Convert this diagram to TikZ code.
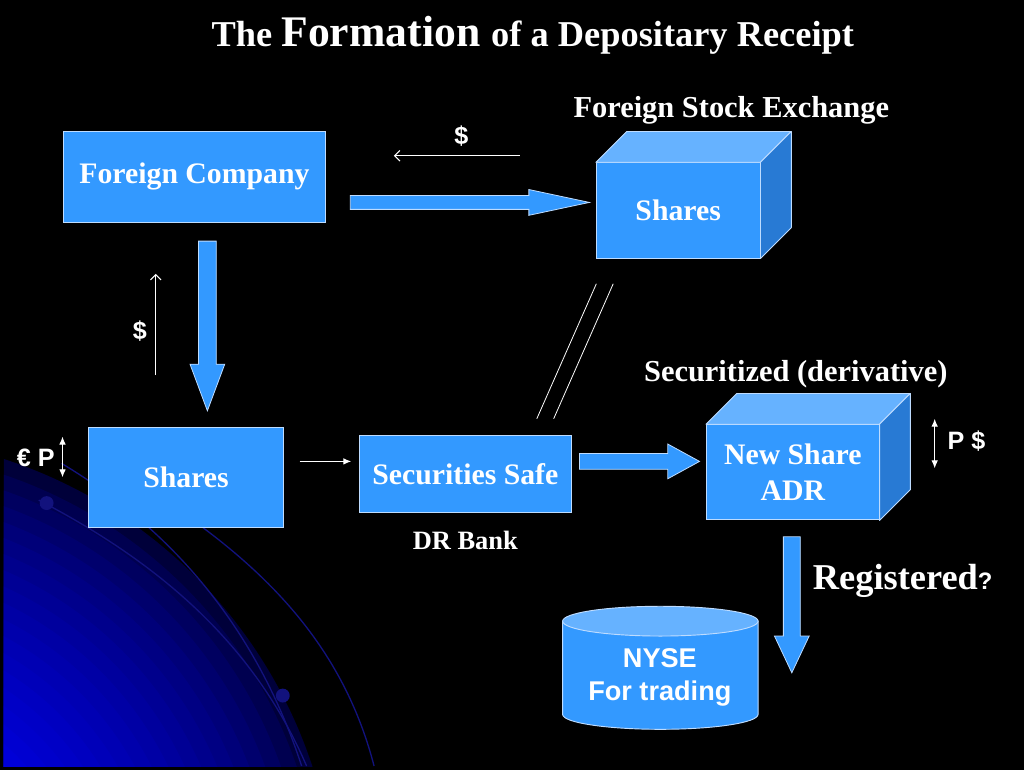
\documentclass[tikz,border=0pt]{standalone}
\usepackage{fontspec}
\setmainfont{Liberation Serif}
\newfontfamily\armfont{Liberation Sans}
\usetikzlibrary{arrows.meta}
\definecolor{boxBlue}{RGB}{51,153,255}
\definecolor{topBlue}{RGB}{102,178,255}
\definecolor{sideBlue}{RGB}{40,122,212}
\definecolor{edgeBlue}{RGB}{190,220,255}
\definecolor{glowBlue}{RGB}{0,0,225}
\definecolor{arcBlue}{RGB}{18,18,125}
\newcommand\pu{0.75pt}
%% fat arrow: start, angle, length, shaft half width, head half width, head length
\newcommand\fatArrow[6]{%
  \begin{scope}[shift={(#1)},rotate=#2]
    \filldraw[fatDecorate] (0,-#4) -- ({#3-#6},-#4) -- ({#3-#6},-#5) -- (#3,0)
      -- ({#3-#6},#5) -- ({#3-#6},#4) -- (0,#4) -- cycle;
  \end{scope}}

\begin{document}
\begin{tikzpicture}
[x=0.75pt,y=-0.75pt,
  boxDecorate/.style={shape=rectangle,fill=boxBlue,draw=edgeBlue,line width=0.7pt,text=white,
    font=\bfseries\fontsize{22.5}{27}\selectfont,align=center,inner sep=0pt},
  topDecorate/.style={fill=topBlue,draw=edgeBlue,line width=0.7pt,line join=round},
  sideDecorate/.style={fill=sideBlue,draw=edgeBlue,line width=0.7pt,line join=round},
  fatDecorate/.style={fill=boxBlue,draw=edgeBlue,line width=0.6pt,line join=miter},
  labelDecorate/.style={text=white,font=\bfseries\fontsize{23}{26}\selectfont,inner sep=0pt},
  signDecorate/.style={text=white,font=\armfont\bfseries\fontsize{19}{21}\selectfont,inner sep=0pt},
  openArrow/.style={white,line width=0.8pt,-{Straight Barb[length=4pt,width=8pt]}},
  solidArrow/.style={white,line width=0.8pt,-{Latex[length=6pt,width=5pt]}},
  bothArrow/.style={white,line width=0.8pt,{Latex[length=6pt,width=5pt]}-{Latex[length=6pt,width=5pt]}}]
%% background
\fill[black] (-4,-4) rectangle (1028,772);
\useasboundingbox (0,0) rectangle (1024,768);
\begin{scope}
  \clip (0,0) rectangle (1024,768);
  \foreach \i in {0,...,20}
  {
    \pgfmathsetmacro\glowmix{100*(\i/20)^0.45}
    \fill[glowBlue!\glowmix!black] (-150,920) circle ({500-\i*15});
  }
  \draw[arcBlue,line width=1pt] (35,500) .. controls (150,560) and (250,640) .. (305,768);
  \draw[arcBlue,line width=1pt] (58,463) .. controls (170,530) and (255,630) .. (300,768);
  \draw[arcBlue,line width=1pt] (190,520) .. controls (280,585) and (345,660) .. (373,768);
  \fill[arcBlue] (43,503) circle (7);
  \fill[arcBlue] (281,697) circle (7);
\end{scope}

%% title
\node[text=white,inner sep=0pt,font=\bfseries] (title) at (533,32)
  {\fontsize{27.5}{30}\selectfont The \fontsize{33}{36}\selectfont Formation
   \fontsize{27.5}{30}\selectfont of a Depositary Receipt};

%% boxes
\foreach \nodename/\x/\y/\w/\h/\txt in {
  fc/192/174/264/92/{Foreign Company}, shares/183.5/477.5/197/101/Shares,
  safe/465/473.5/214/77/{Securities Safe}, fse/679.5/208/165/96/Shares,
  adr/795/472/174/96/{New Share\\ADR}}
{
  \node (\nodename) at (\x,\y) [boxDecorate,minimum width=\w*\pu,minimum height=\h*\pu] {\txt};
}
%% cube faces
\foreach \c in {fse,adr}
{
  \filldraw[topDecorate] (\c.north west) -- ++(31,-31) -- ([shift={(31,-31)}]\c.north east)
    -- (\c.north east) -- cycle;
  \filldraw[sideDecorate] (\c.north east) -- ++(31,-31) -- ([shift={(31,-31)}]\c.south east)
    -- (\c.south east) -- cycle;
}

%% NYSE drum
\filldraw[fill=boxBlue,draw=edgeBlue,line width=0.7pt] (563,622) -- (563,716)
  arc[start angle=180,end angle=360,x radius=98.5,y radius=-15] -- (760,622) -- cycle;
\filldraw[fill=topBlue,draw=edgeBlue,line width=0.7pt] (661.5,622) ellipse (98.5 and 15);
\node[text=white,inner sep=0pt,align=center,font=\armfont\bfseries\fontsize{20.5}{25}\selectfont]
  (nyse) at (661,679) {NYSE\\For trading};

%% labels
\node[labelDecorate] (fseLabel) at (733,107) {Foreign Stock Exchange};
\node[labelDecorate] (secLabel) at (798,373) {Securitized (derivative)};
\node[labelDecorate,font=\bfseries\fontsize{20}{24}\selectfont] (bank) at (465,541) {DR Bank};
\node[labelDecorate,anchor=base west] (reg) at (815,590)
  {\fontsize{27.5}{30}\selectfont Registered{\armfont\fontsize{18}{20}\selectfont ?}};
\node[signDecorate] (payTop) at (461,133) {\$};
\node[signDecorate] (payLeft) at (137,330) {\$};
\node[signDecorate] (euro) at (32,457) {€ P};
\node[signDecorate] (usd) at (970,441) {P \$};

%% fat arrows
\fatArrow{349,200}{0}{241}{7}{13}{61}
\fatArrow{205,239}{-90}{171}{9}{17.5}{47}
\fatArrow{580,461}{0}{121}{8}{17.5}{32}
\fatArrow{794,537}{-90}{137}{8.5}{17.5}{37}

%% thin arrows and lines
\coordinate (payTopA) at (520,153);  \coordinate (payTopB) at (393,153);
\coordinate (payLeftA) at (153,374); \coordinate (payLeftB) at (153,272);
\coordinate (moveA) at (298,461);    \coordinate (moveB) at (350,461);
\coordinate (euroA) at (59,436);     \coordinate (euroB) at (59,477);
\coordinate (usdA) at (938,418);     \coordinate (usdB) at (938,468);
\draw[openArrow] (payTopA) -- (payTopB);
\draw[openArrow] (payLeftA) -- (payLeftB);
\draw[solidArrow] (moveA) -- (moveB);
\draw[bothArrow] (euroA) -- (euroB);
\draw[bothArrow] (usdA) -- (usdB);
\coordinate (linkA) at (537,418); \coordinate (linkB) at (597,282);
\coordinate (linkC) at (554,418); \coordinate (linkD) at (614,282);
\draw[white,line width=0.6pt] (linkA) -- (linkB) (linkC) -- (linkD);
\end{tikzpicture}
\end{document}
